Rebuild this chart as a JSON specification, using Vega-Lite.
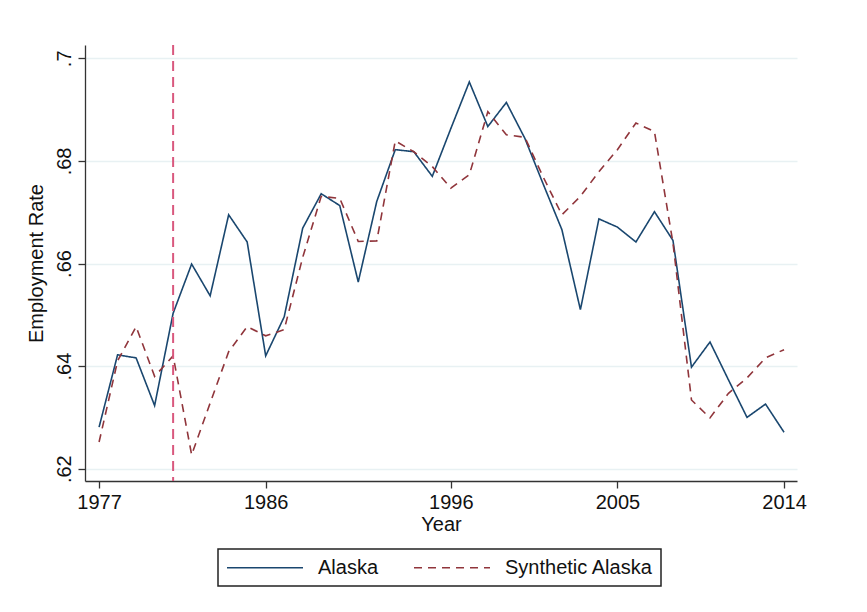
{
  "$schema": "https://vega.github.io/schema/vega-lite/v6.json",
  "width": 712,
  "height": 436,
  "autosize": {"type": "none"},
  "padding": {"left": 85, "top": 45, "right": 70, "bottom": 131},
  "background": "white",
  "config": {
    "view": {"stroke": null},
    "font": "Liberation Sans",
    "axis": {
      "domainColor": "#333333",
      "domainWidth": 1.3,
      "tickColor": "#333333",
      "tickWidth": 1.3,
      "tickSize": 7,
      "labelFont": "Liberation Sans",
      "labelFontSize": 20,
      "labelColor": "#111111",
      "titleFont": "Liberation Sans",
      "titleFontSize": 20,
      "titleFontWeight": "normal",
      "titleColor": "#111111"
    },
    "legend": {
      "orient": "none",
      "legendX": 133,
      "legendY": 504,
      "direction": "horizontal",
      "symbolType": "M-1,0H7",
      "symbolSize": 361,
      "symbolStrokeWidth": 1.6,
      "symbolFillColor": "transparent",
      "labelFont": "Liberation Sans",
      "labelFontSize": 20,
      "labelColor": "#111111",
      "labelOffset": 71,
      "columnPadding": 31,
      "padding": 8,
      "strokeColor": "#222222",
      "strokeWidth": 1.5
    }
  },
  "datasets": {
    "series": [
      {"year": 1977, "series": "Alaska", "rate": 0.6281},
      {"year": 1978, "series": "Alaska", "rate": 0.6422},
      {"year": 1979, "series": "Alaska", "rate": 0.6416},
      {"year": 1980, "series": "Alaska", "rate": 0.6323},
      {"year": 1981, "series": "Alaska", "rate": 0.6503},
      {"year": 1982, "series": "Alaska", "rate": 0.6599},
      {"year": 1983, "series": "Alaska", "rate": 0.6537},
      {"year": 1984, "series": "Alaska", "rate": 0.6695},
      {"year": 1985, "series": "Alaska", "rate": 0.6642},
      {"year": 1986, "series": "Alaska", "rate": 0.6420},
      {"year": 1987, "series": "Alaska", "rate": 0.6496},
      {"year": 1988, "series": "Alaska", "rate": 0.6669},
      {"year": 1989, "series": "Alaska", "rate": 0.6736},
      {"year": 1990, "series": "Alaska", "rate": 0.6713},
      {"year": 1991, "series": "Alaska", "rate": 0.6564},
      {"year": 1992, "series": "Alaska", "rate": 0.6721},
      {"year": 1993, "series": "Alaska", "rate": 0.6822},
      {"year": 1994, "series": "Alaska", "rate": 0.6818},
      {"year": 1995, "series": "Alaska", "rate": 0.6770},
      {"year": 1996, "series": "Alaska", "rate": 0.6863},
      {"year": 1997, "series": "Alaska", "rate": 0.6954},
      {"year": 1998, "series": "Alaska", "rate": 0.6867},
      {"year": 1999, "series": "Alaska", "rate": 0.6914},
      {"year": 2000, "series": "Alaska", "rate": 0.6844},
      {"year": 2001, "series": "Alaska", "rate": 0.6754},
      {"year": 2002, "series": "Alaska", "rate": 0.6666},
      {"year": 2003, "series": "Alaska", "rate": 0.6510},
      {"year": 2004, "series": "Alaska", "rate": 0.6687},
      {"year": 2005, "series": "Alaska", "rate": 0.6671},
      {"year": 2006, "series": "Alaska", "rate": 0.6642},
      {"year": 2007, "series": "Alaska", "rate": 0.6701},
      {"year": 2008, "series": "Alaska", "rate": 0.6645},
      {"year": 2009, "series": "Alaska", "rate": 0.6398},
      {"year": 2010, "series": "Alaska", "rate": 0.6447},
      {"year": 2011, "series": "Alaska", "rate": 0.6373},
      {"year": 2012, "series": "Alaska", "rate": 0.6300},
      {"year": 2013, "series": "Alaska", "rate": 0.6326},
      {"year": 2014, "series": "Alaska", "rate": 0.6271},
      {"year": 1977, "series": "Synthetic Alaska", "rate": 0.6252},
      {"year": 1978, "series": "Synthetic Alaska", "rate": 0.6410},
      {"year": 1979, "series": "Synthetic Alaska", "rate": 0.6477},
      {"year": 1980, "series": "Synthetic Alaska", "rate": 0.6380},
      {"year": 1981, "series": "Synthetic Alaska", "rate": 0.6420},
      {"year": 1982, "series": "Synthetic Alaska", "rate": 0.6227},
      {"year": 1983, "series": "Synthetic Alaska", "rate": 0.6328},
      {"year": 1984, "series": "Synthetic Alaska", "rate": 0.6428},
      {"year": 1985, "series": "Synthetic Alaska", "rate": 0.6477},
      {"year": 1986, "series": "Synthetic Alaska", "rate": 0.6459},
      {"year": 1987, "series": "Synthetic Alaska", "rate": 0.6471},
      {"year": 1988, "series": "Synthetic Alaska", "rate": 0.6612},
      {"year": 1989, "series": "Synthetic Alaska", "rate": 0.6731},
      {"year": 1990, "series": "Synthetic Alaska", "rate": 0.6727},
      {"year": 1991, "series": "Synthetic Alaska", "rate": 0.6643},
      {"year": 1992, "series": "Synthetic Alaska", "rate": 0.6644},
      {"year": 1993, "series": "Synthetic Alaska", "rate": 0.6839},
      {"year": 1994, "series": "Synthetic Alaska", "rate": 0.6818},
      {"year": 1995, "series": "Synthetic Alaska", "rate": 0.6789},
      {"year": 1996, "series": "Synthetic Alaska", "rate": 0.6747},
      {"year": 1997, "series": "Synthetic Alaska", "rate": 0.6773},
      {"year": 1998, "series": "Synthetic Alaska", "rate": 0.6896},
      {"year": 1999, "series": "Synthetic Alaska", "rate": 0.6851},
      {"year": 2000, "series": "Synthetic Alaska", "rate": 0.6846},
      {"year": 2001, "series": "Synthetic Alaska", "rate": 0.6768},
      {"year": 2002, "series": "Synthetic Alaska", "rate": 0.6695},
      {"year": 2003, "series": "Synthetic Alaska", "rate": 0.6731},
      {"year": 2004, "series": "Synthetic Alaska", "rate": 0.6779},
      {"year": 2005, "series": "Synthetic Alaska", "rate": 0.6822},
      {"year": 2006, "series": "Synthetic Alaska", "rate": 0.6874},
      {"year": 2007, "series": "Synthetic Alaska", "rate": 0.6857},
      {"year": 2008, "series": "Synthetic Alaska", "rate": 0.6640},
      {"year": 2009, "series": "Synthetic Alaska", "rate": 0.6334},
      {"year": 2010, "series": "Synthetic Alaska", "rate": 0.6299},
      {"year": 2011, "series": "Synthetic Alaska", "rate": 0.6347},
      {"year": 2012, "series": "Synthetic Alaska", "rate": 0.6377},
      {"year": 2013, "series": "Synthetic Alaska", "rate": 0.6416},
      {"year": 2014, "series": "Synthetic Alaska", "rate": 0.6432}
    ],
    "treatment": [{"year": 1981}]
  },
  "layer": [
    {
      "data": {"name": "series"},
      "mark": {"type": "line", "strokeWidth": 1.6},
      "encoding": {
        "x": {
          "field": "year",
          "type": "quantitative",
          "scale": {"domain": [1976.24, 2014.7], "nice": false, "zero": false},
          "axis": {
            "title": "Year",
            "values": [1977, 1986, 1996, 2005, 2014],
            "format": "d",
            "grid": false,
            "labelBaseline": "top",
            "labelPadding": 4,
            "titlePadding": 2
          }
        },
        "y": {
          "field": "rate",
          "type": "quantitative",
          "scale": {"domain": [0.6176, 0.7026], "nice": false, "zero": false},
          "axis": {
            "title": "Employment Rate",
            "values": [0.62, 0.64, 0.66, 0.68, 0.7],
            "labelExpr": "replace(format(datum.value, '.2~f'), '0.', '.')",
            "grid": true,
            "gridColor": "#e8f1f3",
            "gridWidth": 1.5,
            "labelAngle": 270,
            "labelAlign": "center",
            "labelBaseline": "alphabetic",
            "labelPadding": 8,
            "titlePadding": 8
          }
        },
        "color": {
          "field": "series",
          "type": "nominal",
          "scale": {"domain": ["Alaska", "Synthetic Alaska"], "range": ["#1a476f", "#90353b"]},
          "legend": {"title": null}
        },
        "strokeDash": {
          "field": "series",
          "type": "nominal",
          "scale": {"domain": ["Alaska", "Synthetic Alaska"], "range": [[1, 0], [8, 6]]},
          "legend": {"title": null}
        }
      }
    },
    {
      "data": {"name": "treatment"},
      "mark": {"type": "rule", "color": "#d9587e", "strokeWidth": 2, "strokeDash": [10, 6]},
      "encoding": {
        "x": {"field": "year", "type": "quantitative"}
      }
    }
  ]
}
